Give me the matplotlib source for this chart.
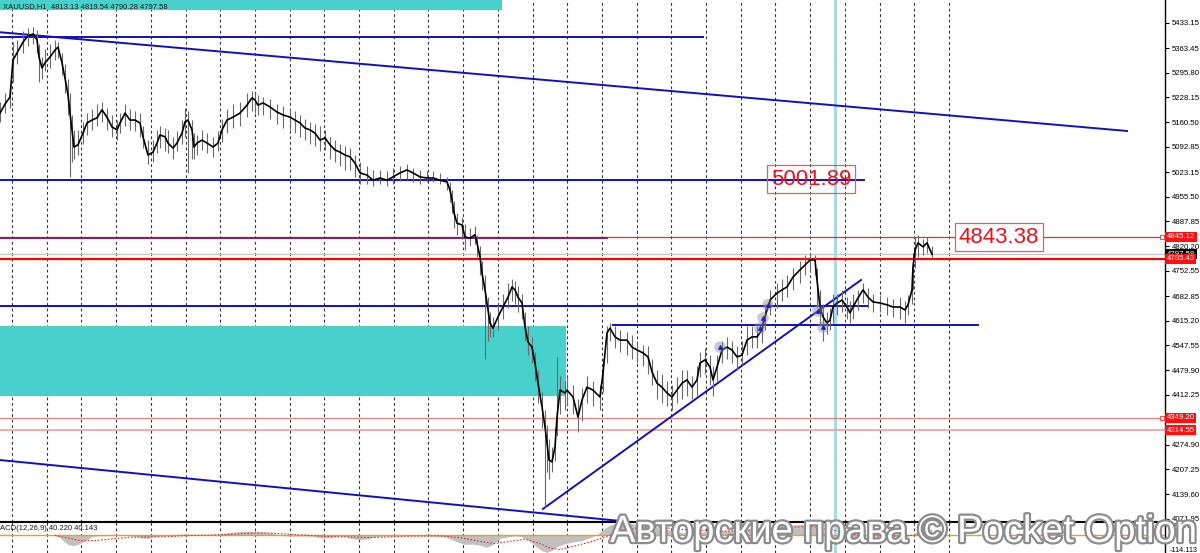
import numpy as np
import matplotlib
matplotlib.use("Agg")
import matplotlib.pyplot as plt
import matplotlib.patheffects as pe
from matplotlib.patches import Rectangle
from matplotlib.transforms import blended_transform_factory

plt.rcParams['font.family'] = ['Liberation Sans', 'DejaVu Sans']

# ---------------- price data (bar index, close / high / low) ----------------
bar_t = [0, 5, 10, 13, 17, 23, 28, 33, 37, 39,
         42, 45, 50, 55, 58, 62, 65, 68, 70, 72,
         74, 78, 83, 87, 92, 97, 102, 107, 112, 117,
         120, 125, 130, 135, 140, 143, 148, 153, 157, 160,
         165, 168, 173, 177, 182, 185, 188, 192, 194, 197,
         202, 207, 213, 218, 222, 227, 233, 240, 247, 252,
         255, 258, 263, 270, 277, 283, 290, 295, 300, 305,
         310, 315, 320, 325, 330, 335, 340, 345, 350, 355,
         360, 367, 373, 380, 387, 393, 400, 407, 413, 420,
         427, 433, 440, 447, 450, 452, 454, 457, 462, 465,
         470, 475, 477, 480, 482, 485, 488, 490, 493, 498,
         503, 508, 512, 515, 518, 522, 525, 528, 532, 535,
         538, 542, 545, 547, 549, 552, 555, 557, 560, 565,
         567, 573, 578, 582, 587, 593, 600, 603, 607, 610,
         615, 620, 627, 632, 637, 643, 648, 652, 657, 662,
         667, 672, 677, 682, 687, 692, 697, 700, 705, 710,
         713, 717, 722, 727, 732, 737, 742, 747, 752, 757,
         762, 765, 770, 777, 782, 787, 793, 800, 805, 810,
         815, 817, 820, 823, 827, 830, 833, 837, 842, 847,
         850, 853, 858, 863, 868, 873, 880, 887, 893, 900,
         905, 908, 912, 913, 915, 918, 923, 927, 932]

close = [5185, 5210, 5229, 5331, 5350, 5380, 5397, 5402, 5386, 5339,
         5309, 5323, 5339, 5358, 5366, 5323, 5281, 5235, 5185, 5139,
         5092, 5098, 5130, 5158, 5166, 5172, 5194, 5174, 5147, 5139,
         5158, 5185, 5166, 5166, 5158, 5120, 5070, 5078, 5103, 5125,
         5120, 5103, 5089, 5103, 5130, 5161, 5166, 5139, 5092, 5103,
         5111, 5103, 5092, 5103, 5139, 5166, 5174, 5185, 5207, 5227,
         5221, 5207, 5213, 5202, 5188, 5180, 5174, 5166, 5158, 5144,
         5139, 5130, 5111, 5117, 5098, 5084, 5078, 5070, 5065, 5048,
         5021, 5015, 5001, 5007, 5001, 5010, 5021, 5029, 5021, 5010,
         5007, 5007, 5001, 4996, 4974, 4947, 4911, 4883, 4878, 4845,
         4842, 4851, 4829, 4790, 4746, 4700, 4645, 4609, 4595, 4626,
         4653, 4680, 4708, 4700, 4680, 4664, 4598, 4557, 4543, 4499,
         4444, 4379, 4324, 4280, 4233, 4228, 4269, 4351, 4425, 4417,
         4425, 4406, 4351, 4398, 4433, 4425, 4406, 4472, 4582, 4595,
         4571, 4562, 4562, 4543, 4535, 4527, 4516, 4475, 4444, 4433,
         4417, 4406, 4425, 4444, 4453, 4433, 4453, 4499, 4508, 4488,
         4453, 4488, 4535, 4543, 4535, 4516, 4521, 4562, 4571, 4571,
         4590, 4626, 4672, 4691, 4700, 4708, 4735, 4755, 4768, 4782,
         4782, 4727, 4653, 4626, 4609, 4617, 4653, 4664, 4672, 4653,
         4637, 4653, 4678, 4700, 4680, 4667, 4664, 4659, 4653, 4653,
         4645, 4659, 4700, 4763, 4809, 4829, 4818, 4829, 4798]

high = [5215, 5240, 5260, 5380, 5385, 5410, 5418, 5420, 5412, 5375,
        5340, 5360, 5375, 5385, 5380, 5350, 5320, 5280, 5240, 5180,
        5140, 5140, 5160, 5185, 5195, 5210, 5215, 5200, 5180, 5165,
        5185, 5210, 5195, 5190, 5185, 5150, 5110, 5110, 5140, 5150,
        5145, 5140, 5120, 5135, 5165, 5200, 5190, 5165, 5130, 5125,
        5140, 5130, 5120, 5135, 5170, 5195, 5210, 5215, 5240, 5245,
        5240, 5235, 5230, 5225, 5210, 5205, 5195, 5190, 5180, 5170,
        5160, 5155, 5150, 5140, 5120, 5110, 5100, 5095, 5090, 5070,
        5050, 5040, 5030, 5030, 5025, 5035, 5040, 5045, 5035, 5030,
        5025, 5025, 5020, 5010, 4995, 4975, 4945, 4910, 4900, 4880,
        4870, 4875, 4850, 4820, 4780, 4740, 4680, 4640, 4625, 4660,
        4690, 4720, 4730, 4725, 4710, 4690, 4640, 4600, 4570, 4530,
        4480, 4420, 4370, 4330, 4290, 4270, 4320, 4515, 4465, 4450,
        4460, 4440, 4400, 4430, 4465, 4450, 4440, 4510, 4600, 4610,
        4600, 4590, 4585, 4575, 4560, 4550, 4545, 4510, 4480, 4470,
        4450, 4440, 4460, 4480, 4480, 4465, 4490, 4530, 4540, 4520,
        4490, 4520, 4560, 4570, 4560, 4545, 4560, 4600, 4600, 4600,
        4620, 4660, 4700, 4720, 4730, 4740, 4760, 4780, 4795, 4800,
        4795, 4760, 4700, 4660, 4640, 4650, 4690, 4690, 4700, 4680,
        4670, 4690, 4700, 4720, 4705, 4690, 4685, 4680, 4675, 4680,
        4670, 4685, 4740, 4800, 4845, 4850, 4840, 4845, 4820]

low = [5160, 5185, 5200, 5270, 5320, 5350, 5370, 5375, 5350, 5270,
       5280, 5300, 5310, 5330, 5335, 5290, 5240, 5180, 5010, 5050,
       5060, 5070, 5100, 5125, 5140, 5150, 5160, 5140, 5120, 5110,
       5130, 5150, 5140, 5135, 5120, 5090, 5045, 5050, 5075, 5090,
       5080, 5075, 5060, 5080, 5100, 5120, 5020, 5060, 5060, 5070,
       5085, 5075, 5065, 5080, 5105, 5130, 5145, 5150, 5175, 5190,
       5185, 5180, 5180, 5170, 5155, 5145, 5140, 5130, 5120, 5110,
       5100, 5095, 5080, 5085, 5060, 5050, 5040, 5030, 5030, 5010,
       4990, 4990, 4985, 4990, 4985, 4990, 5000, 5005, 4995, 4990,
       4995, 4995, 4990, 4975, 4940, 4910, 4870, 4850, 4840, 4810,
       4820, 4825, 4790, 4740, 4700, 4510, 4560, 4570, 4570, 4590,
       4620, 4650, 4670, 4660, 4640, 4620, 4560, 4520, 4500, 4450,
       4390, 4320, 4105, 4200, 4180, 4200, 4230, 4300, 4360, 4370,
       4380, 4360, 4310, 4340, 4390, 4380, 4370, 4420, 4500, 4560,
       4540, 4530, 4520, 4510, 4500, 4490, 4470, 4440, 4400, 4390,
       4380, 4370, 4390, 4400, 4410, 4400, 4410, 4460, 4470, 4440,
       4410, 4450, 4500, 4510, 4500, 4480, 4490, 4520, 4540, 4540,
       4555, 4590, 4630, 4650, 4670, 4680, 4700, 4720, 4740, 4750,
       4740, 4650, 4600, 4560, 4580, 4590, 4610, 4630, 4640, 4620,
       4610, 4620, 4645, 4665, 4650, 4640, 4640, 4630, 4625, 4620,
       4610, 4630, 4660, 4700, 4760, 4790, 4795, 4800, 4790]

# ---------------- MACD sub-window ----------------
macd_t = [55, 60, 63, 68, 73, 78, 83, 88, 92, 97, 105, 115, 125, 135, 142, 148,
          153, 160, 170, 180, 185, 190, 200, 210, 220, 230, 240, 250, 260, 270,
          278, 285, 295, 305, 315, 322, 330, 338, 345, 352, 360, 368, 375, 385,
          395, 405, 420, 435, 445, 450, 458, 465, 472, 480, 487, 493, 500, 507,
          515, 522, 530, 537, 543, 547, 552, 557, 565, 573, 582, 590, 597, 603,
          610, 620, 630, 640, 650, 660, 670, 680, 690, 700, 710, 720, 730, 740,
          750, 760, 770, 780, 790, 800, 810, 817, 823, 830, 840, 850, 860, 870,
          880, 890, 900, 908, 913, 918, 925, 932]
macd_hist = [0, -15, -35, -60, -68, -60, -45, -25, -8, -3, -2, 0, 0, -5, -18, -22,
             -10, -3, 0, 8, 10, 5, 3, 2, 10, 20, 26, 28, 26, 18,
             5, -3, -5, -3, -8, -18, -15, -5, -8, -22, -28, -22, -8, -5,
             -3, 0, -3, -5, -10, -25, -45, -60, -58, -66, -80, -60, -20, -10,
             -3, -10, -40, -80, -105, -114, -100, -75, -55, -45, -35, -15, 5, 40,
             70, 82, 80, 72, 60, 50, 35, 20, 15, 20, 30, 30, 35, 40,
             45, 55, 60, 65, 70, 72, 72, 50, 20, -10, -15, -20, -10, 0,
             0, -5, -8, -5, 10, 35, 45, 40]
sig_t = [55, 70, 80, 95, 110, 130, 150, 170, 190, 210, 230, 250, 270, 290, 310,
         330, 350, 370, 390, 410, 440, 460, 480, 495, 510, 525, 540, 550, 560,
         575, 590, 605, 620, 640, 660, 690, 720, 750, 780, 810, 830, 850, 870,
         900, 920, 932]
sig_val = [0, -20, -35, -35, -25, -12, -10, -8, 0, 2, 8, 15, 16, 8, 0,
           -8, -10, -15, -10, -5, -3, -15, -40, -55, -40, -25, -55, -85, -95,
           -70, -45, -10, 25, 55, 55, 35, 28, 35, 50, 62, 40, 10, -5,
           -5, 5, 18]

# ---------------- axis labels / levels ----------------
price_ticks = [5433.15, 5363.45, 5295.80, 5228.15, 5160.50, 5092.85, 5023.15,
               4955.50, 4887.85, 4820.20, 4752.55, 4682.85, 4615.20, 4547.55,
               4479.90, 4412.25, 4274.90, 4207.25, 4139.60, 4071.95]
red_levels = [4845.12, 4785.43, 4349.20, 4314.55]
bid_price = 4797.58
header = "XAUUSD,H1  4813.13 4819.54 4790.28 4797.58"
macd_label = "ACD(12,26,9) 40.220 40.143"

blue_hlines = [(5394.0, 0, 703), (5001.89, 0, 864), (4655.8, 0, 867), (4602.3, 613, 978)]
blue_trends = [((0, 5407.0), (1127, 5136.0)), ((543, 4099.0), (861, 4727.0)),
               ((0, 4233.0), (620, 4066.0))]
purple_line = (4843.4, 0, 607)
teal_zones = [(0, 502, 5468.0, 5500.0), (0, 566, 4408.8, 4600.9)]
arrow_t = [720, 760, 763, 768, 818, 823]
arrow_p = [4543, 4595, 4623, 4659, 4642, 4598]
vline_t = 835
grid_t = np.arange(12, 950, 34.7)

# ---------------- figure ----------------
W, H = 1200, 553
fig = plt.figure(figsize=(W / 100, H / 100), dpi=100)
fig.patch.set_facecolor('white')
right_px = 1165
ax = fig.add_axes([0, 31 / H, right_px / W, 522 / H])
ax2 = fig.add_axes([0, 0, right_px / W, 31 / H])

ax.set_xlim(0, right_px)
ax.set_ylim(4063.0, 5495.44)
ax2.set_xlim(0, right_px)
ax2.set_ylim(-118, 90)

for a in (ax, ax2):
    a.set_facecolor('white')
    a.set_xticks(grid_t)
    a.grid(axis='x', color='#333333', linestyle=(0, (2.5, 2.5)), linewidth=0.8)
    a.tick_params(axis='x', length=0, labelbottom=False)
    for s in ('left', 'top', 'bottom'):
        a.spines[s].set_visible(False)
    a.spines['right'].set_color('black')
    a.spines['right'].set_linewidth(1.0)
    a.set_axisbelow(True)

ax.spines['bottom'].set_visible(True)
ax.spines['bottom'].set_color('#a8a8a8')
ax.spines['bottom'].set_linewidth(1.5)
ax2.spines['top'].set_visible(True)
ax2.spines['top'].set_color('black')
ax2.spines['top'].set_linewidth(1.5)

# y ticks on the right
ax.yaxis.tick_right()
ax.set_yticks(price_ticks)
ax.set_yticklabels([f"{v:.2f}" for v in price_ticks])
ax.tick_params(axis='y', length=3, width=0.8, pad=2, labelsize=5.6, colors='black')
ax2.set_yticks([])

# zones
for x0, x1, y0, y1 in teal_zones:
    ax.add_patch(Rectangle((x0, y0), x1 - x0, y1 - y0, facecolor='#48d1cc',
                           edgecolor='none', zorder=1))

# horizontal levels
ax.axhline(bid_price, color='#c8c8c8', lw=1.0, zorder=2)
ax.axhline(red_levels[0], color='#e03030', lw=0.9, zorder=3)
ax.axhline(red_levels[1], color='#ff0000', lw=1.6, zorder=3)
ax.axhline(red_levels[2], color='#e88080', lw=0.9, zorder=3)
ax.axhline(red_levels[3], color='#e8a0a0', lw=1.2, zorder=3)
ax.plot([1162, 1162], [red_levels[0], red_levels[2]], ls='none', marker='s', ms=2.5,
        mfc='white', mec='#e03030', mew=0.6, zorder=4, clip_on=False)

for p, a0, a1 in blue_hlines:
    ax.plot([a0, a1], [p, p], color='#1010c0', lw=1.4, zorder=4)
for (t0, p0), (t1, p1) in blue_trends:
    ax.plot([t0, t1], [p0, p1], color='#1010c0', lw=1.4, zorder=4)
ax.plot([purple_line[1], purple_line[2]], [purple_line[0]] * 2, color='#7a1f7a', lw=1.4, zorder=4)

# light blue vertical
for a in (ax, ax2):
    a.axvline(vline_t, color='#a8dbe8', lw=2.2, zorder=2)

# price bars + line
ax.vlines(bar_t, low, high, color='#6a6a6a', lw=0.8, zorder=5)
ax.plot(bar_t, close, color='black', lw=1.2, zorder=6)

# arrow markers
ax.scatter(arrow_t, arrow_p, s=70, color='#8a8aa0', alpha=0.45, zorder=6, edgecolors='none')
ax.scatter(arrow_t, arrow_p, s=6, color='#2020c0', marker='^', zorder=7)

# text boxes
ax.text(811, 5004, "5001.89", ha='center', va='center', fontsize=16, color='#e8141c', zorder=8,
        bbox=dict(boxstyle='square,pad=0.15', fc='none', ec='#e06060', lw=0.9))
ax.text(999, 4845, "4843.38", ha='center', va='center', fontsize=16, color='#e8141c', zorder=8,
        bbox=dict(boxstyle='square,pad=0.15', fc='white', ec='#e06060', lw=0.9))

# right-side colored price labels
tr = blended_transform_factory(ax.transAxes, ax.transData)
def side_label(val, fc):
    ax.text(1.0015, val, f"{val:.2f}", transform=tr, fontsize=5.6, color='white',
            ha='left', va='center', clip_on=False, zorder=10,
            bbox=dict(boxstyle='square,pad=0.2', fc=fc, ec='none'))

side_label(bid_price, 'black')
for v in red_levels:
    side_label(v, '#ff1010')

# header
fig.text(3 / W, 1 - 7 / H, header, fontsize=5.5, color='#1a1a1a', ha='left', va='center')

# MACD
ax2.axhline(0, color='#e8a020', lw=1.0, zorder=3)
ax2.fill_between(macd_t, 0, macd_hist, color='#c0c0c0', lw=0, zorder=2)
ax2.plot(sig_t, sig_val, color='#e03030', lw=0.8, ls=(0, (1.5, 1.5)), zorder=4)
ax2.text(0.0, 0.78, macd_label, transform=ax2.transAxes, fontsize=5.5, color='#1a1a1a',
         ha='left', va='center')
tr2 = blended_transform_factory(ax2.transAxes, ax2.transAxes)
ax2.text(1.004, 0.86, "87.878", transform=tr2, fontsize=5.2, color='black', ha='left', va='center', clip_on=False)
ax2.text(1.004, 0.58, "0.00", transform=tr2, fontsize=5.2, color='black', ha='left', va='center', clip_on=False)
ax2.text(1.004, 0.07, "-114.113", transform=tr2, fontsize=5.2, color='black', ha='left', va='center', clip_on=False)

# watermark
fig.text(610 / W, 11 / H, "Авторские права © Pocket Option", fontsize=27.5,
         color='white', ha='left', va='baseline', zorder=20,
         path_effects=[pe.withStroke(linewidth=3.2, foreground='#8c8c8c')])

fig.savefig('out.png', dpi=100, facecolor='white')
